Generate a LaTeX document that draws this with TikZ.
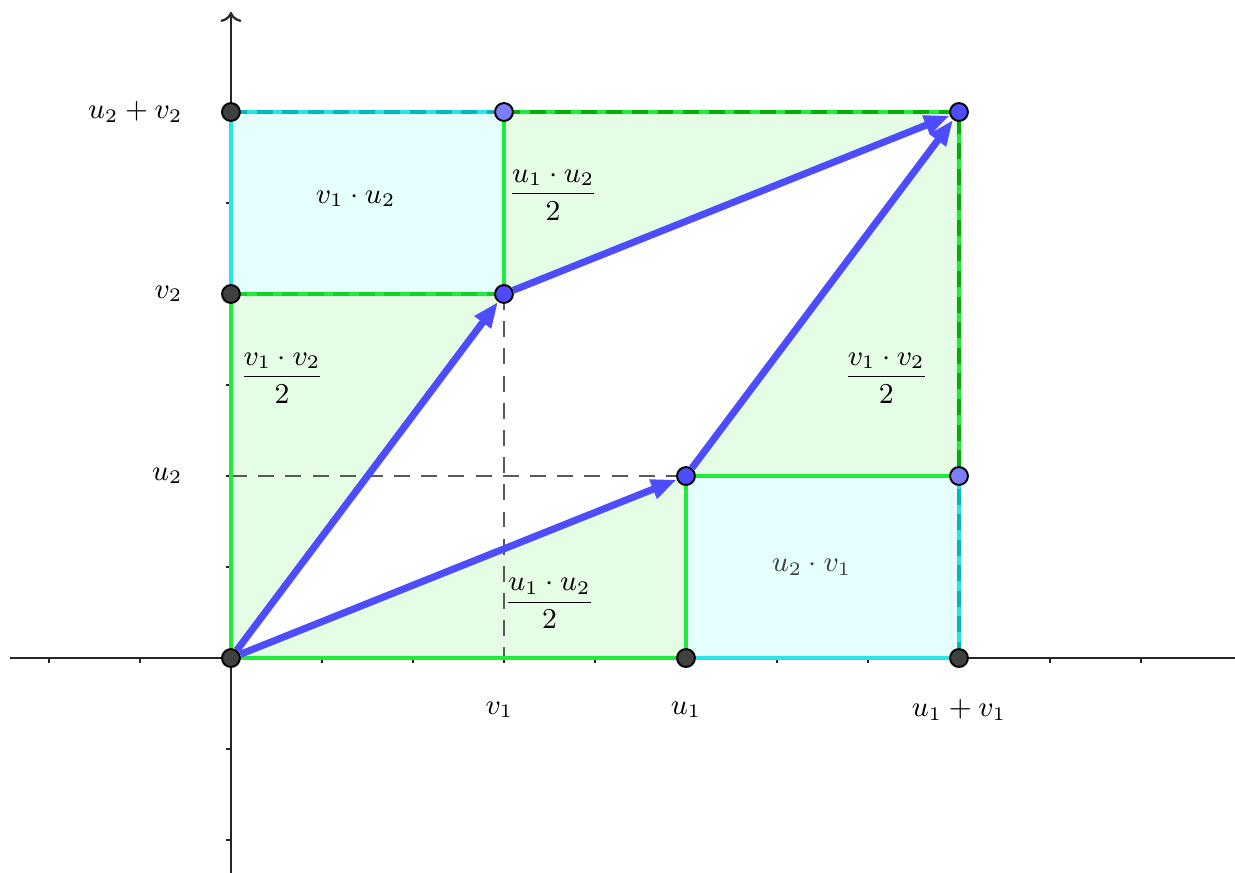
\documentclass[tikz,border=0pt]{standalone}
\usepackage{amsmath}
\usetikzlibrary{arrows.meta}
\definecolor{vecblue}{RGB}{77,77,255}
\definecolor{ptblue}{RGB}{125,125,255}
\definecolor{ptgray}{RGB}{64,64,64}
\definecolor{areagreen}{RGB}{229,252,229}
\definecolor{rimgreen}{RGB}{30,235,60}
\definecolor{dashgreen}{RGB}{0,175,0}
\definecolor{areacyan}{RGB}{229,255,255}
\definecolor{rimcyan}{RGB}{40,228,232}
\definecolor{dashcyan}{RGB}{0,185,190}
\tikzset{
  axis/.style={line width=0.7pt, black!85},
  rim/.style={line width=1.3pt},
  rimdash/.style={line width=1.3pt, dash pattern=on 5pt off 3pt},
  helper/.style={line width=0.8pt, black!65, dash pattern=on 5pt off 3.5pt},
  vec/.style={line width=2.2pt, vecblue, -{Triangle[length=8pt,width=6pt]}},
  pt/.style={circle, draw=black, line width=0.6pt, inner sep=0pt, minimum size=5.6pt}
}
\begin{document}
\begin{tikzpicture}[x=1cm, y=1cm, font=\fontsize{8.8}{10.5}\selectfont]
  \useasboundingbox (-2.538,-2.352) rectangle (11.033,7.231);
  % Axes
  \draw[axis] (-2.43,0) -- (11.2,0);
  \draw[axis,->] (0,-2.45) -- (0,7.1);
  \foreach \t in {-2,-1,1,2,...,10}
    \draw[axis] (\t,0) -- (\t,-0.06);
  \foreach \t in {-2,-1,1,2,...,6}
    \draw[axis] (0,\t) -- (-0.06,\t);
  % Points
  \coordinate (O) at (0,0);
  \coordinate (U) at (5,2);
  \coordinate (V) at (3,4);
  \coordinate (S) at (8,6);
  \coordinate (U1) at (5,0);
  \coordinate (S1) at (8,0);
  \coordinate (V1) at (3,0);
  \coordinate (U2) at (0,2);
  \coordinate (V2) at (0,4);
  \coordinate (S2) at (0,6);
  \coordinate (C1) at (3,6);
  \coordinate (C2) at (8,2);
  % Areas
  \fill[areacyan] (V2) rectangle (C1);
  \fill[areacyan] (U1) rectangle (C2);
  \fill[areagreen] (O) -- (U1) -- (U) -- cycle;
  \fill[areagreen] (O) -- (V) -- (V2) -- cycle;
  \fill[areagreen] (V) -- (C1) -- (S) -- cycle;
  \fill[areagreen] (U) -- (C2) -- (S) -- cycle;
  % Helper lines
  \draw[helper] (V) -- (V1);
  \draw[helper] (U2) -- (U);
  % Rims
  \draw[rim, rimcyan] (V2) -- (S2) -- (C1);
  \draw[rim, rimcyan] (U1) -- (S1) -- (C2);
  \draw[rimdash, dashcyan] (S2) -- (C1);
  \draw[rimdash, dashcyan] (S1) -- (C2);
  \draw[rim, rimgreen] (V2) -- (O) -- (U1) -- (U) -- (C2) -- (S) -- (C1) -- (V) -- (V2);
  \draw[rimdash, dashgreen] (C1) -- (S) -- (C2);
  \draw[rimdash, dashgreen!40!rimgreen] (V2) -- (V);
  % Vertices
  \foreach \p/\c in {O/ptgray, U1/ptgray, S1/ptgray, V2/ptgray, S2/ptgray,
                     V/vecblue, U/vecblue, S/vecblue, C1/ptblue, C2/ptblue}
    \node[pt, fill=\c] (pt\p) at (\p) {};
  % Vectors
  \draw[vec] (ptO) -- (ptV);
  \draw[vec] (ptO) -- (ptU);
  \draw[vec] (ptV) -- (ptS);
  \draw[vec] (ptU) -- (ptS);
  % Axis labels
  \node (lv1) at (2.95,-0.57) {$v_1$};
  \node (lu1) at (5,-0.57) {$u_1$};
  \node (ls1) at (8,-0.57) {$u_1+v_1$};
  \node[left] (lu2) at (-0.41,2) {$u_2$};
  \node[left] (lv2) at (-0.41,4) {$v_2$};
  \node[left] (ls2) at (-0.41,6) {$u_2+v_2$};
  % Area labels
  \node (avu) at (1.37,5.05) {$v_1\cdot u_2$};
  \node (auu) at (3.54,5.09) {$\dfrac{u_1\cdot u_2}{2}$};
  \node (avv) at (0.56,3.08) {$\dfrac{v_1\cdot v_2}{2}$};
  \node (avvr) at (7.2,3.08) {$\dfrac{v_1\cdot v_2}{2}$};
  \node (auul) at (3.5,0.6) {$\dfrac{u_1\cdot u_2}{2}$};
  \node[black!75] (auv) at (6.38,1.0) {$u_2\cdot v_1$};
\end{tikzpicture}
\end{document}
